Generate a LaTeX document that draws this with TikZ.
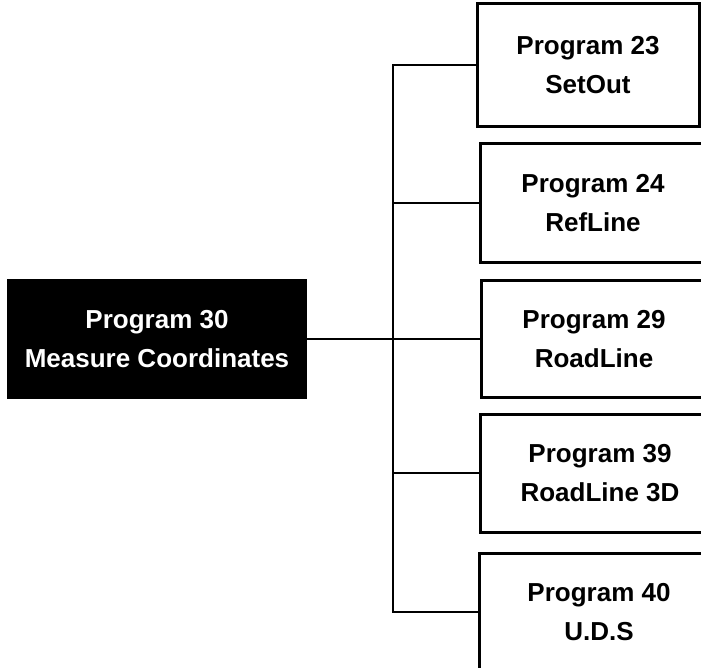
\documentclass[tikz,border=0pt]{standalone}
\usepackage{fontspec}
\setmainfont{Liberation Sans}
\begin{document}
\begin{tikzpicture}[x=1bp,y=-1bp,
  lbl/.style={font=\fontsize{26bp}{39bp}\selectfont\bfseries, align=center, inner sep=0pt},
  progbox/.style={lbl, draw=black, line width=3bp, rectangle},
  mainbox/.style={lbl, fill=black, text=white, rectangle},
  conn/.style={line width=2.8bp, draw=black}]
\useasboundingbox (0,0) rectangle (701,668);
\clip (0,0) rectangle (701,668);
\node[mainbox, minimum width=300bp, minimum height=120bp] (main) at (157,339) {Program 30\\Measure Coordinates};
\node[progbox, minimum width=222bp, minimum height=123bp] (b23) at (588,65) {Program 23\\SetOut};
\node[progbox, minimum width=226bp, minimum height=118bp] (b24) at (593,203) {Program 24\\RefLine};
\node[progbox, minimum width=226bp, minimum height=117bp] (b29) at (594,339) {Program 29\\RoadLine};
\node[progbox, minimum width=240bp, minimum height=118bp] (b39) at (600,473) {Program 39\\RoadLine 3D};
\node[progbox, minimum width=240bp, minimum height=118bp] (b40) at (599,612) {Program 40\\U.D.S};
\coordinate (trunk) at (393,0);
\draw[conn] (b23.west) -- (b23.west -| trunk) -- (b40.west -| trunk) -- (b40.west);
\draw[conn] (b24.west -| trunk) -- (b24.west);
\draw[conn] (b29.west -| trunk) -- (b29.west);
\draw[conn] (b39.west -| trunk) -- (b39.west);
\draw[conn] (main.east) -- (main.east -| trunk);
\end{tikzpicture}
\end{document}
